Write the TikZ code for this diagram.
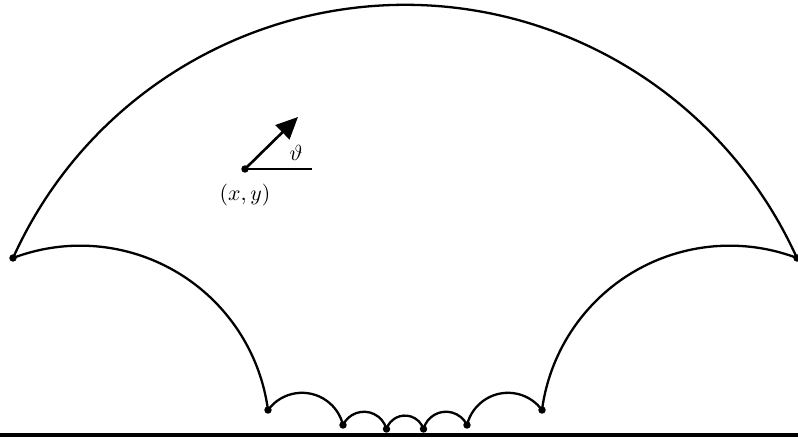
\documentclass[tikz,border=0pt]{standalone}
\usetikzlibrary{arrows.meta}
\begin{document}
\begin{tikzpicture}[x=0.457pt,y=0.457pt,
  geo/.style={line width=1.05pt},
  dot/.style={circle,fill=black,inner sep=0pt,minimum size=3.4pt}]
\useasboundingbox (-405,-3) rectangle (393,435);
\def\u{0.457pt}
% baseline
\coordinate (L) at (-405,0);
\coordinate (R) at (393,0);
\draw[line width=1.4pt] (L) -- (R);
% vertices
\node[dot] (A) at (-392,177) {};
\node[dot] (B) at (-137,25) {};
\node[dot] (C) at (-62,10) {};
\node[dot] (D) at (-18.5,6) {};
\node[dot] (D2) at (18.5,6) {};
\node[dot] (C2) at (62,10) {};
\node[dot] (B2) at (137,25) {};
\node[dot] (A2) at (392,177) {};
% geodesic arcs
\draw[geo] (A.center) arc[start angle=155.7,end angle=24.3,radius=430.1*\u];
\draw[geo] (A.center) arc[start angle=110.8,end angle=7.6,radius=189.4*\u];
\draw[geo] (B.center) arc[start angle=143.7,end angle=13.7,radius=42.2*\u];
\draw[geo] (C.center) arc[start angle=154.5,end angle=14.9,radius=23.26*\u];
\draw[geo] (D.center) arc[start angle=162.0,end angle=18.0,radius=19.45*\u];
\draw[geo] (D2.center) arc[start angle=165.1,end angle=25.5,radius=23.26*\u];
\draw[geo] (C2.center) arc[start angle=166.3,end angle=36.3,radius=42.2*\u];
\draw[geo] (B2.center) arc[start angle=172.4,end angle=69.2,radius=189.4*\u];
% point with direction
\node[dot] (P) at (-160,266) {};
\coordinate (Ph) at (-93,266);
\coordinate (Pt) at (-107,318);
\draw[line width=1.2pt] (P.center) -- (Ph);
\draw[line width=1.2pt,-{Triangle[length=10pt,width=9pt]}] (P.center) -- (Pt);
\node (th) at (-109,282) {$\vartheta$};
\node (xy) at (-160,240) {$(x,y)$};
\end{tikzpicture}
\end{document}
